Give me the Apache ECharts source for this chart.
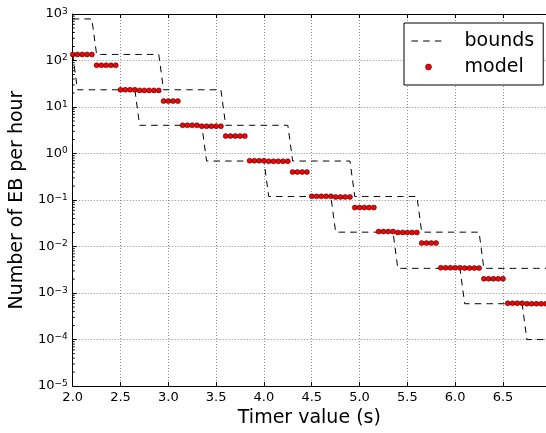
<!DOCTYPE html>
<html><head><meta charset="utf-8">
<script src="https://cdn.jsdelivr.net/npm/echarts@6/dist/echarts.min.js"></script>
<style>html,body{margin:0;padding:0;background:#fff}#c{width:546px;height:433px}</style>
</head><body><div id="c"></div>
<script>
// Timer values (s)
const timer = [2.00,2.05,2.10,2.15,2.20,2.25,2.30,2.35,2.40,2.45,2.50,2.55,2.60,2.65,2.70,2.75,2.80,2.85,2.90,2.95,
3.00,3.05,3.10,3.15,3.20,3.25,3.30,3.35,3.40,3.45,3.50,3.55,3.60,3.65,3.70,3.75,3.80,3.85,3.90,3.95,
4.00,4.05,4.10,4.15,4.20,4.25,4.30,4.35,4.40,4.45,4.50,4.55,4.60,4.65,4.70,4.75,4.80,4.85,4.90,4.95,
5.00,5.05,5.10,5.15,5.20,5.25,5.30,5.35,5.40,5.45,5.50,5.55,5.60,5.65,5.70,5.75,5.80,5.85,5.90,5.95,
6.00,6.05,6.10,6.15,6.20,6.25,6.30,6.35,6.40,6.45,6.50,6.55,6.60,6.65,6.70,6.75,6.80,6.85,6.90,6.95];

// Upper bound (EB per hour)
const upperBound = [783,783,783,783,783,
135,135,135,135,135,135,135,135,135,135,135,135,135,135,
23.5,23.5,23.5,23.5,23.5,23.5,23.5,23.5,23.5,23.5,23.5,23.5,23.5,
4.05,4.05,4.05,4.05,4.05,4.05,4.05,4.05,4.05,4.05,4.05,4.05,4.05,4.05,
0.69,0.69,0.69,0.69,0.69,0.69,0.69,0.69,0.69,0.69,0.69,0.69,0.69,
0.119,0.119,0.119,0.119,0.119,0.119,0.119,0.119,0.119,0.119,0.119,0.119,0.119,0.119,
0.0204,0.0204,0.0204,0.0204,0.0204,0.0204,0.0204,0.0204,0.0204,0.0204,0.0204,0.0204,0.0204,
0.0034,0.0034,0.0034,0.0034,0.0034,0.0034,0.0034,0.0034,0.0034,0.0034,0.0034,0.0034,0.0034,0.0034];

// Lower bound (EB per hour)
const lowerBound = [135,
23.5,23.5,23.5,23.5,23.5,23.5,23.5,23.5,23.5,23.5,23.5,23.5,23.5,
4.05,4.05,4.05,4.05,4.05,4.05,4.05,4.05,4.05,4.05,4.05,4.05,4.05,4.05,
0.69,0.69,0.69,0.69,0.69,0.69,0.69,0.69,0.69,0.69,0.69,0.69,0.69,
0.119,0.119,0.119,0.119,0.119,0.119,0.119,0.119,0.119,0.119,0.119,0.119,0.119,0.119,
0.0204,0.0204,0.0204,0.0204,0.0204,0.0204,0.0204,0.0204,0.0204,0.0204,0.0204,0.0204,0.0204,
0.0034,0.0034,0.0034,0.0034,0.0034,0.0034,0.0034,0.0034,0.0034,0.0034,0.0034,0.0034,0.0034,0.0034,
0.00059,0.00059,0.00059,0.00059,0.00059,0.00059,0.00059,0.00059,0.00059,0.00059,0.00059,0.00059,0.00059,
0.0001,0.0001,0.0001,0.0001,0.0001];

// Model (EB per hour)
const model = [135,135,135,135,135,
79,79,79,79,79,
23.5,23.5,23.5,23.5,
22.8,22.8,22.8,22.8,22.8,
13.4,13.4,13.4,13.4,
4.05,4.05,4.05,4.05,
3.87,3.87,3.87,3.87,3.87,
2.37,2.37,2.37,2.37,2.37,
0.70,0.70,0.70,0.70,
0.68,0.68,0.68,0.68,0.68,
0.40,0.40,0.40,0.40,
0.12,0.12,0.12,0.12,0.12,
0.117,0.117,0.117,0.117,
0.069,0.069,0.069,0.069,0.069,
0.021,0.021,0.021,0.021,
0.0201,0.0201,0.0201,0.0201,0.0201,
0.0119,0.0119,0.0119,0.0119,
0.0035,0.0035,0.0035,0.0035,0.0035,
0.00344,0.00344,0.00344,0.00344,
0.00203,0.00203,0.00203,0.00203,0.00203,
0.000605,0.000605,0.000605,0.000605,
0.00059,0.00059,0.00059,0.00059,0.00059];

const seriesNames = ['bounds', 'model'];
const xTickLabels = ['2.0','2.5','3.0','3.5','4.0','4.5','5.0','5.5','6.0','6.5'];

const FONT = 'DejaVu Sans';
const chart = echarts.init(document.getElementById('c'), null, {renderer: 'canvas'});

function pairs(xs, ys) { return xs.map((x, i) => [x, ys[i]]); }

const option = {
  animation: false,
  backgroundColor: '#fff',
  grid: {left: 67.7, right: -1, top: 14, bottom: 42, containLabel: false},
  xAxis: [{
    type: 'value', min: 2.0, max: 6.95, interval: 0.5,
    name: 'Timer value (s)', nameLocation: 'middle', nameGap: 22,
    nameTextStyle: {fontFamily: FONT, fontSize: 19, color: '#000'},
    axisLine: {show: true, onZero: false, lineStyle: {color: '#000', width: 1}},
    axisTick: {show: true, inside: true, length: 4, lineStyle: {color: '#000'}},
    axisLabel: {show: true, margin: 5, fontFamily: FONT, fontSize: 13, color: '#000', showMaxLabel: false,
      formatter: function (v) { const i = Math.round((v - 2) / 0.5); return xTickLabels[i] !== undefined ? xTickLabels[i] : ''; }},
    splitLine: {show: true, lineStyle: {color: '#888', width: 1, type: [1, 2]}}
  }, {
    type: 'value', min: 2.0, max: 6.95, interval: 0.5, position: 'top',
    axisLine: {show: true, onZero: false, lineStyle: {color: '#000', width: 1}},
    axisTick: {show: true, inside: true, length: 4, lineStyle: {color: '#000'}},
    axisLabel: {show: false}, splitLine: {show: false}
  }],
  yAxis: [{
    type: 'log', logBase: 10, min: 1e-5, max: 1e3, splitNumber: 8,
    name: 'Number of EB per hour', nameLocation: 'middle', nameGap: 38, nameRotate: 90,
    nameTextStyle: {fontFamily: FONT, fontSize: 19, color: '#000'},
    axisLine: {show: true, onZero: false, lineStyle: {color: '#000', width: 1}},
    axisTick: {show: true, inside: true, length: 4, lineStyle: {color: '#000'}},
    axisLabel: {show: true, margin: 5, color: '#000',
      formatter: function (v) {
        const e = Math.round(Math.log10(v));
        return '{b|10}{s|' + (e < 0 ? '\u2212' + (-e) : e) + '}';
      },
      rich: {
        b: {fontFamily: FONT, fontSize: 13, color: '#000', lineHeight: 14, verticalAlign: 'middle'},
        s: {fontFamily: FONT, fontSize: 9, color: '#000', lineHeight: 9, verticalAlign: 'top', padding: [0, 0, 14, 0]}
      }},
    splitLine: {show: true, lineStyle: {color: '#888', width: 1, type: [1, 2]}}
  }],
  legend: {
    orient: 'vertical', left: 404, top: 23,
    padding: [8, 9, 8, 7], itemWidth: 34, itemHeight: 6, itemGap: 6,
    backgroundColor: '#fff', borderColor: '#000', borderWidth: 1, borderRadius: 0,
    textStyle: {fontFamily: FONT, fontSize: 19, color: '#000', lineHeight: 20, padding: [0, 0, 0, 14]},
    data: [
      {name: seriesNames[0], itemStyle: {opacity: 0}, lineStyle: {width: 1, type: [6.5, 5.2], color: '#000'}},
      {name: seriesNames[1], icon: 'circle', itemStyle: {color: '#ff0000', borderColor: '#000', borderWidth: 0.5, opacity: 1}}
    ]
  },
  series: [{
    name: seriesNames[0], type: 'line', data: pairs(timer, upperBound),
    symbol: 'none', lineStyle: {color: '#000', width: 1, type: [6.5, 5.2]}, itemStyle: {color: '#000'},
    z: 2, silent: true
  }, {
    name: seriesNames[0], type: 'line', data: pairs(timer, lowerBound),
    symbol: 'none', lineStyle: {color: '#000', width: 1, type: [6.5, 5.2]}, itemStyle: {color: '#000'},
    z: 2, silent: true
  }, {
    name: seriesNames[1], type: 'scatter', data: pairs(timer, model),
    symbol: 'circle', symbolSize: 5,
    itemStyle: {color: '#ff0000', borderColor: '#000', borderWidth: 0.5, opacity: 1},
    z: 3, silent: true
  }]
};
chart.setOption(option);

// log minor ticks on the left spine (2..9 x 10^n), placed through the axis scale
const minorTicks = [];
const x0 = chart.convertToPixel({xAxisIndex: 0}, 2.0);
for (let n = -5; n < 3; n++) {
  for (let m = 2; m <= 9; m++) {
    const y = chart.convertToPixel({yAxisIndex: 0}, m * Math.pow(10, n));
    minorTicks.push({type: 'line', silent: true, z: 10,
      shape: {x1: x0, y1: y, x2: x0 + 2, y2: y}, style: {stroke: '#000', lineWidth: 1}});
  }
}
chart.setOption({graphic: minorTicks});
</script></body></html>
